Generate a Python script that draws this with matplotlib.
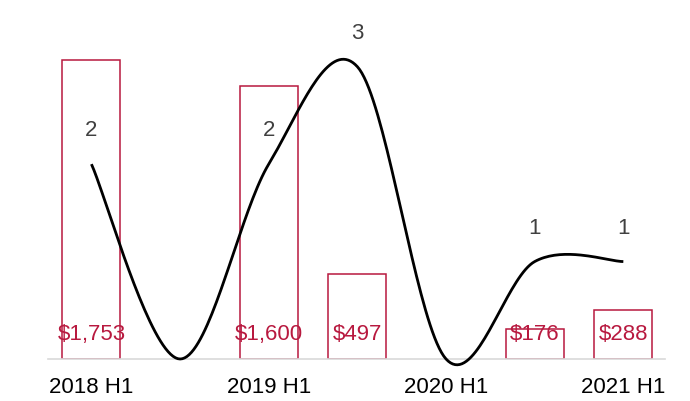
import numpy as np
import matplotlib.pyplot as plt

plt.rcParams['font.family'] = ['Liberation Sans', 'DejaVu Sans']

# data
periods = ['2018 H1', '2018 H2', '2019 H1', '2019 H2', '2020 H1', '2020 H2', '2021 H1']
amounts = [1753, 0, 1600, 497, 0, 176, 288]
counts = [2, 0, 2, 3, 0, 1, 1]
tick_labels = ['2018 H1', '', '2019 H1', '', '2020 H1', '', '2021 H1']

bar_color = '#B8193F'


def smooth_line(xs, ys, n=40):
    """Excel-like smoothed line (cardinal bezier through each point)."""
    pts = np.column_stack([xs, ys]).astype(float)
    out = []
    for i in range(len(pts) - 1):
        p0 = pts[max(i - 1, 0)]
        p1 = pts[i]
        p2 = pts[i + 1]
        p3 = pts[min(i + 2, len(pts) - 1)]
        c1 = p1 + (p2 - p0) / 6
        c2 = p2 - (p3 - p1) / 6
        t = np.linspace(0, 1, n)[:, None]
        seg = ((1 - t) ** 3) * p1 + 3 * ((1 - t) ** 2) * t * c1 + 3 * (1 - t) * t ** 2 * c2 + t ** 3 * p2
        out.append(seg if i == 0 else seg[1:])
    out = np.vstack(out)
    return out[:, 0], out[:, 1]


fig = plt.figure(figsize=(6.9, 4.01), dpi=100)
ax = fig.add_axes([48 / 690, 42 / 401, 617 / 690, 341 / 401])
x = np.arange(len(periods))

# empty periods get no outline
edge_widths = [1.1 if v > 0 else 0 for v in amounts]
bars = ax.bar(x, amounts, width=0.655, color='white', edgecolor=bar_color, linewidth=edge_widths)
for xi, v in zip(x, amounts):
    if v > 0:
        ax.annotate('${:,}'.format(v), (xi, 0), xytext=(0, 17.5), textcoords='offset points',
                    ha='center', va='center', color=bar_color, fontsize=16)

ax.set_xlim(-0.49, 6.47)
ax.set_ylim(0, 2000)
ax.set_xticks(x)
ax.set_xticklabels(tick_labels, fontsize=16)
ax.tick_params(axis='x', length=0, pad=13)
ax.set_yticks([])
for s in ['top', 'right', 'left']:
    ax.spines[s].set_visible(False)
ax.spines['bottom'].set_color('#D9D9D9')
ax.spines['bottom'].set_linewidth(1.2)

ax2 = ax.twinx()
sx, sy = smooth_line(x, counts)
ax2.plot(sx, sy, color='black', linewidth=2.0, clip_on=False, solid_capstyle='butt')
for xi, c in zip(x, counts):
    if c > 0:
        ax2.annotate(str(c), (xi, c), xytext=(0, 24), textcoords='offset points',
                     ha='center', va='center', color='#404040', fontsize=16)
ax2.set_ylim(0, 3.5)
ax2.set_yticks([])
for s in ax2.spines.values():
    s.set_visible(False)

plt.savefig('out.png', dpi=100)
